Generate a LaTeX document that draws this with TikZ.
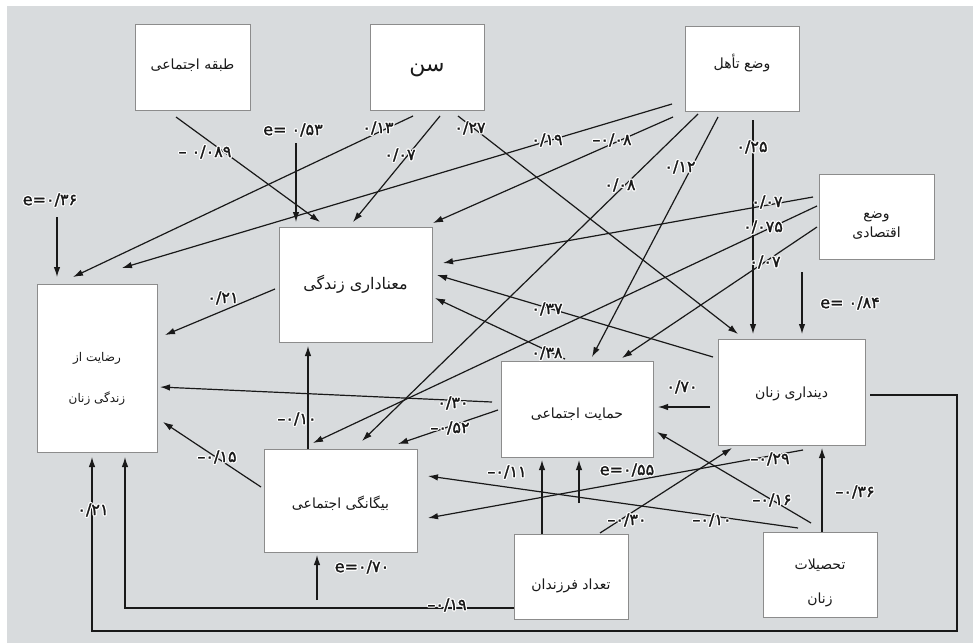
\documentclass[tikz,border=0pt]{standalone}
\usepackage{fontspec}
\usetikzlibrary{arrows.meta}
\TeXXeTstate=1
\newfontfamily\fa[Script=Arabic]{DejaVu Sans}
\newfontfamily\nm[FakeBold=1.5]{DejaVu Sans}
\definecolor{bg}{RGB}{216,219,221}
\definecolor{bd}{RGB}{140,140,140}
\definecolor{ink}{RGB}{25,25,25}
\newcommand\rl[2]{\raisebox{#1}[\height][\depth]{#2}}
\newcommand\hcpy[2]{\rlap{\kern#1\raise#2\hbox{\color{white}\copy0}}}
\newcommand\halo[1]{\leavevmode\setbox0=\hbox{#1}%
\hcpy{1.2pt}{0pt}\hcpy{-1.2pt}{0pt}\hcpy{0pt}{1.2pt}\hcpy{0pt}{-1.2pt}%
\hcpy{0.85pt}{0.85pt}\hcpy{-0.85pt}{0.85pt}\hcpy{0.85pt}{-0.85pt}\hcpy{-0.85pt}{-0.85pt}%
\box0}
\tikzset{
 box/.style={draw=bd, line width=1pt, fill=white, anchor=north west, inner sep=0pt, outer sep=0pt, align=center, text=ink, font=\fa\fontsize{14}{18}\selectfont},
 arr/.style={draw=ink, line width=1.2pt, -{Latex[length=10pt,width=6.5pt]}},
 lab/.style={font=\nm\fontsize{16}{18}\selectfont, inner sep=1pt, text=ink},
}
\begin{document}
\begin{tikzpicture}[x=1pt,y=-1pt]
\useasboundingbox (0,0) rectangle (973,643);
\fill[bg] (7,6) rectangle (973,643);
% boxes
\node[box, minimum width=115pt, minimum height=86pt] (tabaqe) at (135,24) {\rl{2pt}{\beginR طبقه اجتماعی\endR}};
\node[box, minimum width=114pt, minimum height=86pt, font=\fa\fontsize{22}{26}\selectfont] (sen) at (370,24) {\rl{-3pt}{\beginR سن\endR}};
\node[box, minimum width=114pt, minimum height=85pt] (taahol) at (685,26) {\rl{5pt}{\beginR وضع تأهل\endR}};
\node[box, minimum width=115pt, minimum height=85pt, font=\fa\fontsize{14}{19}\selectfont] (eqtesad) at (819,174) {\rl{-9pt}{\beginR وضع\endR}\\\rl{-9pt}{\beginR اقتصادی\endR}};
\node[box, minimum width=153pt, minimum height=115pt, font=\fa\fontsize{16}{20}\selectfont] (mana) at (279,227) {\rl{0pt}{\beginR معناداری زندگی\endR}};
\node[box, minimum width=120pt, minimum height=168pt, font=\fa\fontsize{12}{16}\selectfont] (rezayat) at (37,284) {\rl{-11pt}{\beginR رضایت از\endR}\\[25pt]\rl{-11pt}{\beginR زندگی زنان\endR}};
\node[box, minimum width=147pt, minimum height=106pt] (din) at (718,339) {\rl{-2pt}{\beginR دینداری زنان\endR}};
\node[box, minimum width=152pt, minimum height=96pt] (hemayat) at (501,361) {\rl{-5pt}{\beginR حمایت اجتماعی\endR}};
\node[box, minimum width=153pt, minimum height=103pt] (bigane) at (264,449) {\rl{-3pt}{\beginR بیگانگی اجتماعی\endR}};
\node[box, minimum width=114pt, minimum height=85pt] (farzand) at (514,534) {\rl{-9pt}{\beginR تعداد فرزندان\endR}};
\node[box, minimum width=114pt, minimum height=85pt, font=\fa\fontsize{14}{18}\selectfont] (tahsil) at (763,532) {\rl{-8pt}{\beginR تحصیلات\endR}\\[16pt]\rl{-8pt}{\beginR زنان\endR}};
% free ends
\coordinate (e53) at (296,143);
\coordinate (e84) at (802,272);
\coordinate (e36) at (57,217);
\coordinate (e70) at (317,600);
\coordinate (e55) at (579,503);
\coordinate (loopc) at (957,631);
% connectors
\draw[arr] ([shift={(41,93)}]tabaqe.north west) -- ([shift={(41,-5)}]mana.north west);
\draw[arr] (e53) -- ([shift={(17,-5)}]mana.north west);
\draw[arr] ([shift={(43,92)}]sen.north west) -- ([shift={(36,-7)}]rezayat.north west);
\draw[arr] ([shift={(70,92)}]sen.north west) -- ([shift={(74,-5)}]mana.north west);
\draw[arr] ([shift={(88,92)}]sen.north west) -- ([shift={(20,-5)}]din.north west);
\draw[arr] ([shift={(-13,78)}]taahol.north west) -- ([shift={(85,-16)}]rezayat.north west);
\draw[arr] ([shift={(-12,91)}]taahol.north west) -- ([shift={(154,-4)}]mana.north west);
\draw[arr] ([shift={(13,88)}]taahol.north west) -- ([shift={(98,-8)}]bigane.north west);
\draw[arr] ([shift={(33,91)}]taahol.north west) -- ([shift={(91,-4)}]hemayat.north west);
\draw[arr] ([shift={(68,94)}]taahol.north west) -- ([shift={(35,-5)}]din.north west);
\draw[arr] ([shift={(-6,23)}]eqtesad.north west) -- ([shift={(164,36)}]mana.north west);
\draw[arr] ([shift={(-2,32)}]eqtesad.north west) -- ([shift={(49,-6)}]bigane.north west);
\draw[arr] ([shift={(-2,53)}]eqtesad.north west) -- ([shift={(121,-3)}]hemayat.north west);
\draw[arr] (e84) -- ([shift={(84,-5)}]din.north west);
\draw[arr] (e36) -- ([shift={(20,-7)}]rezayat.north west);
\draw[arr] ([shift={(-4,62)}]mana.north west) -- ([shift={(128,51)}]rezayat.north west);
\draw[arr] ([shift={(-5,18)}]din.north west) -- ([shift={(158,48)}]mana.north west);
\draw[arr] ([shift={(64,-2)}]hemayat.north west) -- ([shift={(156,71)}]mana.north west);
\draw[arr] ([shift={(-8,68)}]din.north west) -- ([shift={(157,46)}]hemayat.north west);
\draw[arr] ([shift={(-9,41)}]hemayat.north west) -- ([shift={(123,103)}]rezayat.north west);
\draw[arr] ([shift={(-3,49)}]hemayat.north west) -- ([shift={(134,-5)}]bigane.north west);
\draw[arr] ([shift={(44,0)}]bigane.north west) -- ([shift={(29,119)}]mana.north west);
\draw[arr] ([shift={(-3,38)}]bigane.north west) -- ([shift={(126,138)}]rezayat.north west);
\draw[arr] (e70) -- ([shift={(53,106)}]bigane.north west);
\draw[arr] (e55) -- ([shift={(78,99)}]hemayat.north west);
\draw[arr] ([shift={(28,0)}]farzand.north west) -- ([shift={(41,99)}]hemayat.north west);
\draw[arr] ([shift={(86,-1)}]farzand.north west) -- ([shift={(14,109)}]din.north west);
\draw[arr] ([shift={(59,0)}]tahsil.north west) -- ([shift={(104,109)}]din.north west);
\draw[arr] ([shift={(48,-9)}]tahsil.north west) -- ([shift={(156,71)}]hemayat.north west);
\draw[arr] ([shift={(35,-4)}]tahsil.north west) -- ([shift={(164,27)}]bigane.north west);
\draw[arr] ([shift={(85,111)}]din.north west) -- ([shift={(164,69)}]bigane.north west);
\draw[arr] ([shift={(152,56)}]din.north west) -| (loopc) -| ([shift={(55,173)}]rezayat.north west);
\draw[arr] ([shift={(0,74)}]farzand.north west) -| ([shift={(88,173)}]rezayat.north west);
% labels
\node[lab] (l1) at (205,152) {\halo{– ۰/۰۸۹}};
\node[lab] (l2) at (293,130) {\halo{e= ۰/۵۳}};
\node[lab] (l3) at (378,128) {\halo{۰/۱۳}};
\node[lab] (l4) at (400,155) {\halo{۰/۰۷}};
\node[lab] (l5) at (470,128) {\halo{۰/۲۷}};
\node[lab] (l6) at (547,140) {\halo{۰/۱۹}};
\node[lab] (l7) at (612,140) {\halo{–۰/۰۸}};
\node[lab] (l8) at (620,185) {\halo{۰/۰۸}};
\node[lab] (l9) at (680,167) {\halo{۰/۱۲}};
\node[lab] (l10) at (752,147) {\halo{۰/۲۵}};
\node[lab] (l11) at (767,202) {\halo{۰/۰۷}};
\node[lab] (l12) at (763,227) {\halo{۰/۰۷۵}};
\node[lab] (l13) at (765,262) {\halo{۰/۰۷}};
\node[lab] (l14) at (850,303) {\halo{e= ۰/۸۴}};
\node[lab] (l15) at (50,200) {\halo{e=۰/۳۶}};
\node[lab] (l16) at (223,298) {\halo{۰/۲۱}};
\node[lab] (l17) at (547,309) {\halo{۰/۳۷}};
\node[lab] (l18) at (547,353) {\halo{۰/۳۸}};
\node[lab] (l19) at (682,387) {\halo{۰/۷۰}};
\node[lab] (l20) at (453,403) {\halo{۰/۳۰}};
\node[lab] (l21) at (450,428) {\halo{–۰/۵۲}};
\node[lab] (l22) at (297,419) {\halo{–۰/۱۰}};
\node[lab] (l23) at (217,457) {\halo{–۰/۱۵}};
\node[lab] (l24) at (507,472) {\halo{–۰/۱۱}};
\node[lab] (l25) at (627,470) {\halo{e=۰/۵۵}};
\node[lab] (l26) at (770,459) {\halo{–۰/۲۹}};
\node[lab] (l27) at (772,500) {\halo{–۰/۱۶}};
\node[lab] (l28) at (855,492) {\halo{–۰/۳۶}};
\node[lab] (l29) at (627,520) {\halo{–۰/۳۰}};
\node[lab] (l30) at (712,520) {\halo{–۰/۱۰}};
\node[lab] (l31) at (362,567) {\halo{e=۰/۷۰}};
\node[lab] (l32) at (447,605) {\halo{–۰/۱۹}};
\node[lab] (l33) at (93,510) {\halo{۰/۲۱}};
\end{tikzpicture}
\end{document}
